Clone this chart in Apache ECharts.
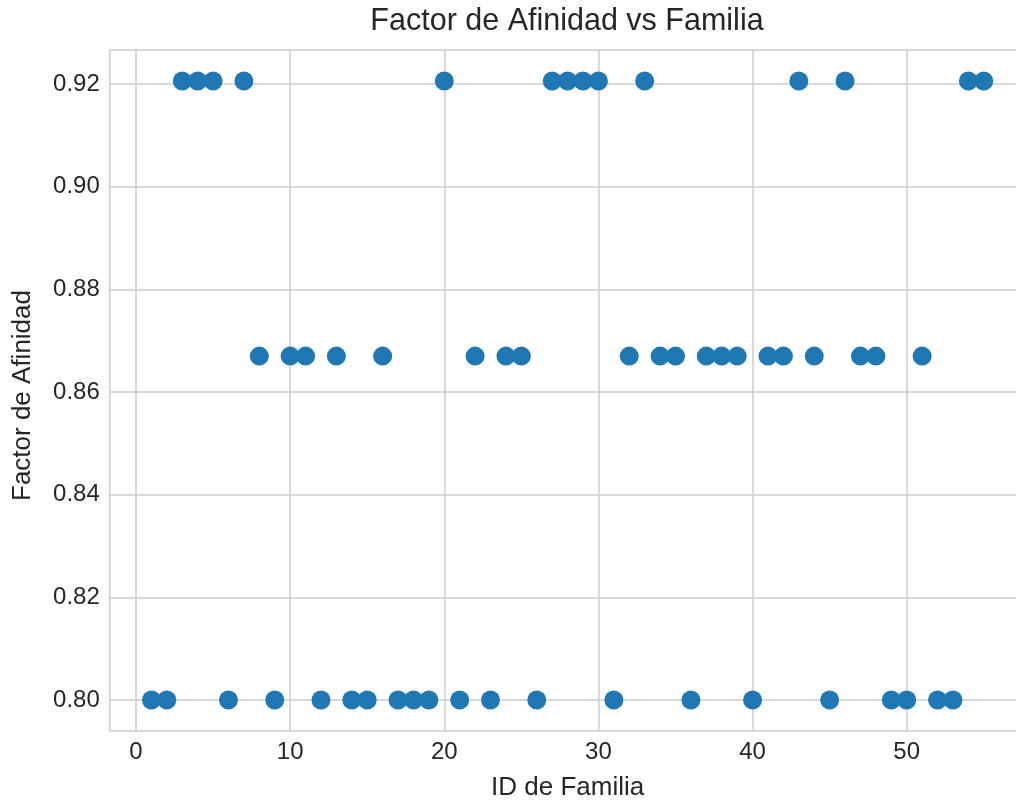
<!DOCTYPE html>
<html>
<head>
<meta charset="utf-8">
<script src="https://cdn.jsdelivr.net/npm/echarts@6/dist/echarts.min.js"></script>
<style>html,body{margin:0;padding:0;background:#fff;}#c{width:1016px;height:801px;}</style>
</head>
<body>
<div id="c"></div>
<script>
const titleText = 'Factor de Afinidad vs Familia';
const xName = 'ID de Familia';
const yName = 'Factor de Afinidad';
const familyIds = [1,2,3,4,5,6,7,8,9,10,11,12,13,14,15,16,17,18,19,20,21,22,23,24,25,26,27,28,29,30,31,32,33,34,35,36,37,38,39,40,41,42,43,44,45,46,47,48,49,50,51,52,53,54,55];
const affinity = [0.80,0.80,0.9206,0.9206,0.9206,0.80,0.9206,0.867,0.80,0.867,0.867,0.80,0.867,0.80,0.80,0.867,0.80,0.80,0.80,0.9206,0.80,0.867,0.80,0.867,0.867,0.80,0.9206,0.9206,0.9206,0.9206,0.80,0.867,0.9206,0.867,0.867,0.80,0.867,0.867,0.867,0.80,0.867,0.867,0.9206,0.867,0.80,0.9206,0.867,0.867,0.80,0.80,0.867,0.80,0.80,0.9206,0.9206];
const xTicks = [0,10,20,30,40,50];
const yTicks = [0.80,0.82,0.84,0.86,0.88,0.90,0.92];

const txt = '#262626';
const gridCol = '#cccccc';
const font = '"Liberation Sans", Arial, sans-serif';

const chart = echarts.init(document.getElementById('c'), null, {renderer:'canvas'});
chart.setOption({
  backgroundColor: '#ffffff',
  animation: false,
  title: {
    text: titleText,
    left: 567, textAlign: 'center', top: 6, padding: 0,
    textStyle: {color: txt, fontSize: 30.5, fontWeight: 'normal', fontFamily: font}
  },
  grid: {
    left: 109.8, top: 50, width: 915.6, height: 681,
    outerBoundsMode: 'none', containLabel: false,
    show: true, borderColor: gridCol, borderWidth: 1.5, backgroundColor: '#ffffff'
  },
  xAxis: {
    type: 'value', min: -1.7, max: 57.7,
    name: xName, nameLocation: 'middle', nameGap: 44,
    nameTextStyle: {color: txt, fontSize: 26, fontFamily: font},
    axisLine: {show: false}, axisTick: {show: false, customValues: xTicks},
    axisLabel: {customValues: xTicks, color: txt, fontSize: 24, fontFamily: font, margin: 9},
    splitLine: {show: true, lineStyle: {color: gridCol, width: 1.5}}
  },
  yAxis: {
    type: 'value', min: 0.79397, max: 0.92663,
    name: yName, nameLocation: 'middle', nameGap: 74,
    nameTextStyle: {color: txt, fontSize: 26, fontFamily: font, padding: [0, 10, 0, 0]},
    axisLine: {show: false}, axisTick: {show: false, customValues: yTicks},
    axisLabel: {customValues: yTicks, color: txt, fontSize: 24, fontFamily: font, margin: 10,
      formatter: v => v.toFixed(2)},
    splitLine: {show: true, lineStyle: {color: gridCol, width: 1.5}}
  },
  series: [{
    type: 'scatter',
    data: familyIds.map((id, i) => [id, affinity[i]]),
    symbol: 'circle', symbolSize: 19,
    itemStyle: {color: '#1f77b4', opacity: 1},
    clip: false
  }]
});
</script>
</body>
</html>
